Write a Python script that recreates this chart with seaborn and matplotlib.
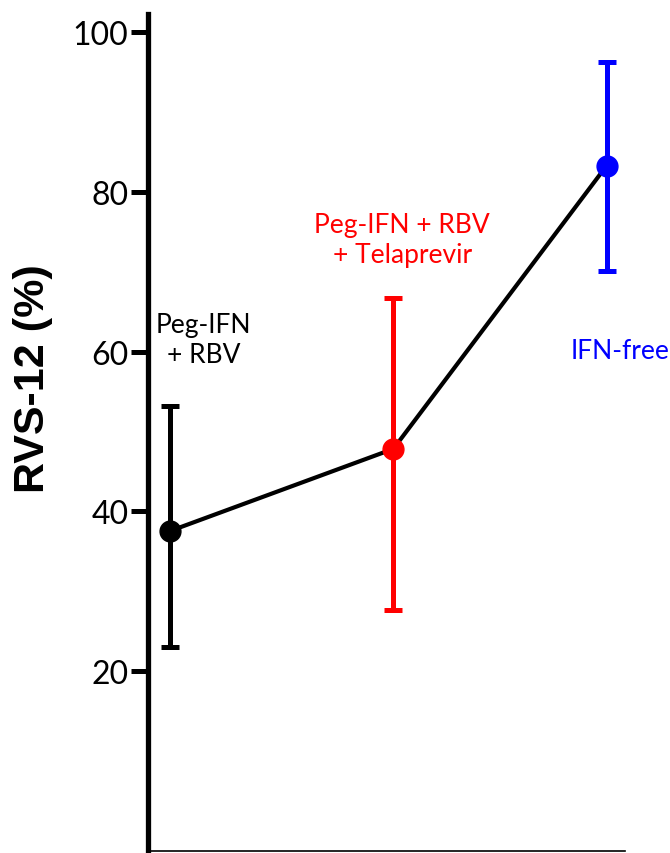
import matplotlib
matplotlib.use("Agg")
import matplotlib.pyplot as plt
import numpy as np
import pandas as pd
import seaborn as sns

# values
groups = ["Peg-IFN\n+ RBV", "Peg-IFN + RBV\n+ Telaprevir", "IFN-free"]
x_pos = [0.0, 1.0, 1.955]
rvs = [37.5, 47.8, 83.3]
ci_low = [23.0, 27.6, 70.1]
ci_high = [53.2, 66.7, 96.3]
colors = ["black", "red", "blue"]
y_ticks = [20, 40, 60, 80, 100]

df = pd.DataFrame({"x": x_pos, "rvs": rvs, "group": groups})

sns.set_style("white")
plt.rcParams["font.family"] = ["Lato", "DejaVu Sans"]
plt.rcParams["text.color"] = "black"
plt.rcParams["ytick.color"] = "black"
plt.rcParams["axes.labelcolor"] = "black"

fig = plt.figure(figsize=(6.7, 8.54), dpi=100)
ax = fig.add_axes([148 / 670, 2 / 854, 477 / 670, 837 / 854])

sns.lineplot(data=df, x="x", y="rvs", color="black", lw=3, ax=ax, zorder=2)

for i in range(len(groups)):
    ax.errorbar(x_pos[i], rvs[i],
                yerr=[[rvs[i] - ci_low[i]], [ci_high[i] - rvs[i]]],
                fmt="o", color=colors[i], ms=15, elinewidth=3.6,
                capsize=6.5, capthick=3.6, zorder=3)

# group labels
ax.text(0.15, 61.5, groups[0], color=colors[0], ha="center", va="center",
        fontsize=19, linespacing=1.25)
ax.text(1.04, 74.1, groups[1], color=colors[1], ha="center", va="center",
        fontsize=19, linespacing=1.25)
ax.text(2.015, 60.1, groups[2], color=colors[2], ha="center", va="center",
        fontsize=19, linespacing=1.25, clip_on=False)

ax.set_xlim(-0.0985, 2.037)
ax.set_ylim(-2.6, 102.3)
ax.set_yticks(y_ticks)
ax.set_xticks([])
ax.set_xlabel("")
ax.set_ylabel("RVS-12 (%)", fontsize=31, fontweight="bold",
              family="Liberation Sans")
ax.yaxis.set_label_coords(-0.2, 0.565)
ax.tick_params(axis="y", direction="out", length=12, width=3.6,
               labelsize=23, pad=2, left=True, colors="black")

for side in ["top", "right"]:
    ax.spines[side].set_visible(False)
ax.spines["left"].set_linewidth(3.8)
ax.spines["bottom"].set_linewidth(1.2)
ax.spines["left"].set_color("black")
ax.spines["bottom"].set_color("black")

fig.savefig("out.png", dpi=100)
